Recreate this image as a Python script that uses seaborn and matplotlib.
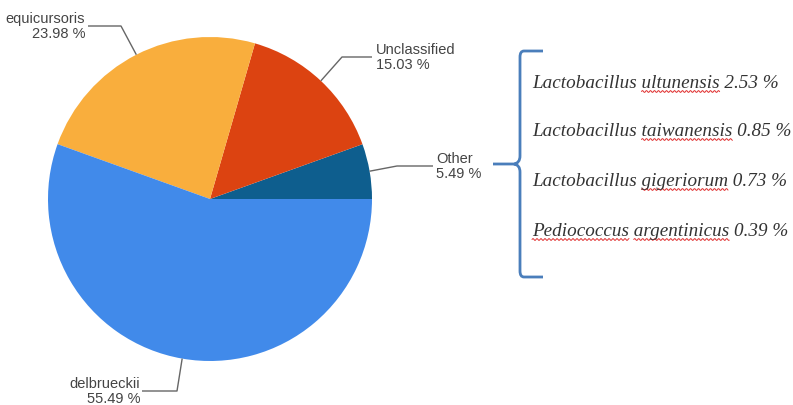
import numpy as np
import matplotlib
matplotlib.use("Agg")
import matplotlib.pyplot as plt
from matplotlib.path import Path
from matplotlib.patches import PathPatch
import seaborn as sns

# Genus-level composition (pie, counter-clockwise from 3 o'clock)
categories = ["Other", "Unclassified", "equicursoris", "delbrueckii"]
shares = [5.49, 15.03, 23.98, 55.49]
slice_colors = ["#0E5E8E", "#DC4311", "#F9AE3D", "#418AEA"]

# Breakdown of the "Other" slice
other_species = ["Lactobacillus ultunensis", "Lactobacillus taiwanensis",
                 "Lactobacillus gigeriorum", "Pediococcus argentinicus"]
other_shares = [2.53, 0.85, 0.73, 0.39]
flagged_words = [["ultunensis"], ["taiwanensis"], ["gigeriorum"],
                 ["Pediococcus", "argentinicus"]]

sns.set_theme(style="white")
plt.rcParams["font.family"] = ["Liberation Sans", "DejaVu Sans"]

W, H = 793, 406
fig = plt.figure(figsize=(W / 100, H / 100), dpi=100)
ax = fig.add_axes([0, 0, 1, 1])

cx, cy, R = 210, H - 200, 162
wedges, _ = ax.pie(shares, colors=slice_colors, startangle=0, counterclock=True,
                   center=(cx, cy), radius=R, frame=True,
                   wedgeprops=dict(linewidth=0))
ax.set_xlim(0, W)
ax.set_ylim(0, H)
ax.set_aspect("equal")
ax.axis("off")

# Leader lines: anchor at each wedge's mid angle, then elbow and label
label_layout = {
    "equicursoris": dict(elbow=(121, 27), end=(88, 27), ha="right", tx=85),
    "Unclassified": dict(elbow=(342, 58), end=(372, 58), ha="left", tx=376),
    "Other": dict(elbow=(397, 167), end=(433, 167), ha="left", tx=436),
    "delbrueckii": dict(elbow=(177, 392), end=(142, 392), ha="right", tx=140),
}
text_grey = "#444444"
for w, name, pct in zip(wedges, categories, shares):
    mid = np.deg2rad((w.theta1 + w.theta2) / 2)
    ax0, ay0 = cx + R * np.cos(mid), cy + R * np.sin(mid)
    lay = label_layout[name]
    ex, ey = lay["elbow"]
    fx, fy = lay["end"]
    ax.plot([ax0, ex, fx], [ay0, H - ey, H - fy], color="#666666", lw=1.0,
            solid_capstyle="butt")
    ax.text(lay["tx"], H - fy + 1, name, ha=lay["ha"], va="bottom",
            fontsize=10.5, color=text_grey)
    ax.text(lay["tx"], H - fy, f"{pct:.2f} %", ha=lay["ha"], va="top",
            fontsize=10.5, color=text_grey)

# Curly brace grouping the "Other" breakdown
bx, top, mid_y, bot, tip, arm = 520, H - 52, H - 165, H - 278, 493, 543
verts = [(arm, top), (bx + 4, top), (bx, top), (bx, top - 6),
         (bx, mid_y + 8), (bx, mid_y + 1), (bx - 6, mid_y), (tip, mid_y),
         (bx - 6, mid_y), (bx, mid_y - 1), (bx, mid_y - 8),
         (bx, bot + 6), (bx, bot), (bx + 4, bot), (arm, bot)]
codes = [Path.MOVETO, Path.LINETO, Path.CURVE3, Path.CURVE3,
         Path.LINETO, Path.CURVE3, Path.CURVE3, Path.LINETO,
         Path.MOVETO, Path.CURVE3, Path.CURVE3,
         Path.LINETO, Path.CURVE3, Path.CURVE3, Path.LINETO]
ax.add_patch(PathPatch(Path(verts, codes), fill=False, edgecolor="#4A7EBB",
                       lw=2.0, capstyle="butt"))

# Species list in italic serif with red wavy marks under flagged words
serif = dict(family=["Liberation Serif", "DejaVu Serif"], style="italic",
             fontsize=13.8, color="#333333")
renderer = fig.canvas.get_renderer()


def text_width(s):
    t = ax.text(0, 0, s, **serif)
    wpx = t.get_window_extent(renderer).width
    t.remove()
    return wpx


space_w = text_width("a a") - text_width("aa")
x0 = 532
rows_y = [84, 132, 182, 232]
for sp, val, flags, ry in zip(other_species, other_shares, flagged_words, rows_y):
    line = f"{sp} {val:.2f} %"
    ax.text(x0, H - ry, line, ha="left", va="center", **serif)
    for word in flags:
        i = line.index(word)
        prefix = line[:i]
        stripped = prefix.rstrip()
        xs = x0 + (text_width(stripped) if stripped else 0) \
            + space_w * (len(prefix) - len(stripped))
        xe = xs + text_width(word)
        xx = np.linspace(xs, xe, int((xe - xs) * 2) + 2)
        yy = H - ry - 8.5 + 0.9 * np.sin(2 * np.pi * (xx - xs) / 4.0)
        ax.plot(xx, yy, color="#E03030", lw=0.7)

fig.savefig("out.png", dpi=100)
